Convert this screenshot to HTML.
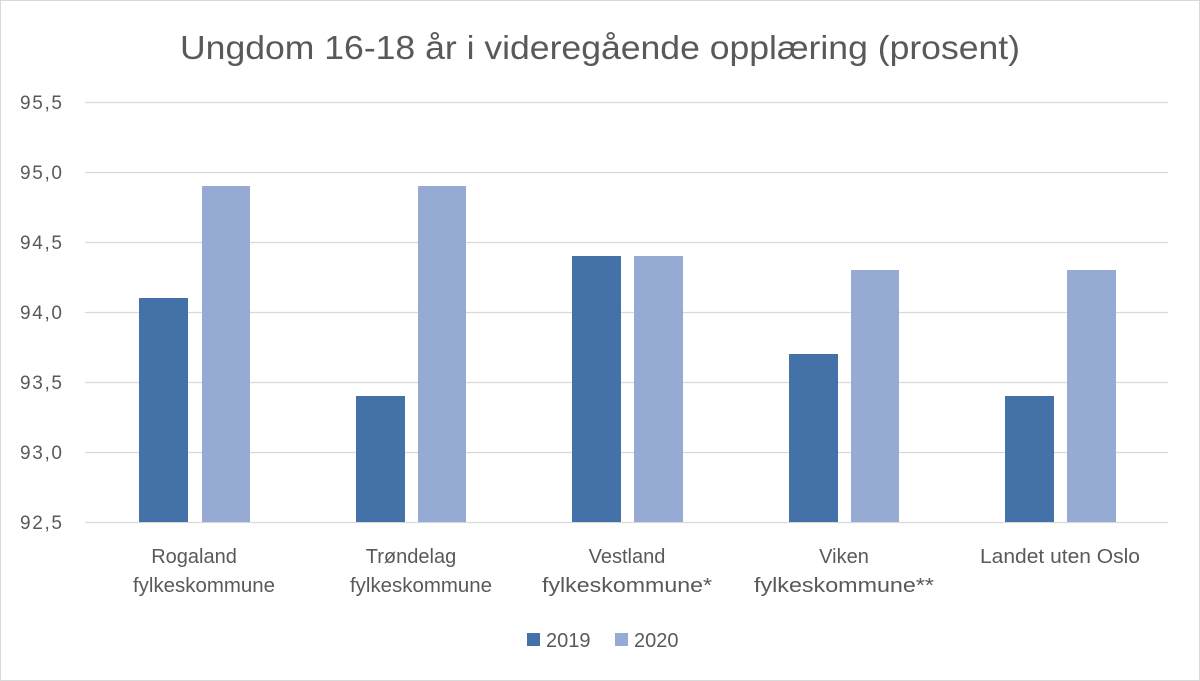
<!DOCTYPE html>
<html><head><meta charset="utf-8"><style>
body{margin:0;background:#fff;}
svg{display:block;font-family:"Liberation Sans",sans-serif;}
</style></head><body>
<svg width="1200" height="681" viewBox="0 0 1200 681">
<rect x="0.5" y="0.5" width="1199" height="680" fill="#fff" stroke="#d9d9d9"/>
<text x="180" y="59" font-size="33" fill="#595959" textLength="840" lengthAdjust="spacingAndGlyphs">Ungdom 16-18 år i videregående opplæring (prosent)</text>
<g stroke="#d9d9d9" stroke-width="1.3">
<line x1="85" x2="1168" y1="102.5" y2="102.5"/>
<line x1="85" x2="1168" y1="172.5" y2="172.5"/>
<line x1="85" x2="1168" y1="242.5" y2="242.5"/>
<line x1="85" x2="1168" y1="312.5" y2="312.5"/>
<line x1="85" x2="1168" y1="382.5" y2="382.5"/>
<line x1="85" x2="1168" y1="452.5" y2="452.5"/>
<line x1="85" x2="1168" y1="522.5" y2="522.5"/>
</g>
<g font-size="19" fill="#595959" lengthAdjust="spacingAndGlyphs">
<text x="20" y="109" textLength="42">95,5</text><text x="20" y="179" textLength="42">95,0</text><text x="20" y="249" textLength="42">94,5</text>
<text x="20" y="319" textLength="42">94,0</text><text x="20" y="389" textLength="42">93,5</text><text x="20" y="459" textLength="42">93,0</text>
<text x="20" y="529" textLength="42">92,5</text>
</g>
<g fill="#4472a8">
<rect x="139" y="298" width="49" height="224"/>
<rect x="356" y="396" width="49" height="126"/>
<rect x="572" y="256" width="49" height="266"/>
<rect x="789" y="354" width="49" height="168"/>
<rect x="1005" y="396" width="49" height="126"/>
</g>
<g fill="#95abd3">
<rect x="202" y="186" width="48" height="336"/>
<rect x="418" y="186" width="48" height="336"/>
<rect x="634" y="256" width="49" height="266"/>
<rect x="851" y="270" width="48" height="252"/>
<rect x="1067" y="270" width="49" height="252"/>
</g>
<g font-size="20" fill="#595959" text-anchor="middle">
<text x="194" y="563">Rogaland</text><text x="204" y="592" textLength="142" lengthAdjust="spacingAndGlyphs">fylkeskommune</text>
<text x="411" y="563">Trøndelag</text><text x="421" y="592" textLength="142" lengthAdjust="spacingAndGlyphs">fylkeskommune</text>
<text x="627" y="563">Vestland</text><text x="627" y="592" textLength="170" lengthAdjust="spacingAndGlyphs">fylkeskommune*</text>
<text x="844" y="563">Viken</text><text x="844" y="592" textLength="180" lengthAdjust="spacingAndGlyphs">fylkeskommune**</text>
<text x="1060" y="563" textLength="160" lengthAdjust="spacingAndGlyphs">Landet uten Oslo</text>
</g>
<rect x="527" y="633" width="13" height="13" fill="#4472a8"/>
<text x="546" y="647" font-size="20" fill="#595959">2019</text>
<rect x="615" y="633" width="13" height="13" fill="#95abd3"/>
<text x="634" y="647" font-size="20" fill="#595959">2020</text>
</svg>
</body></html>
